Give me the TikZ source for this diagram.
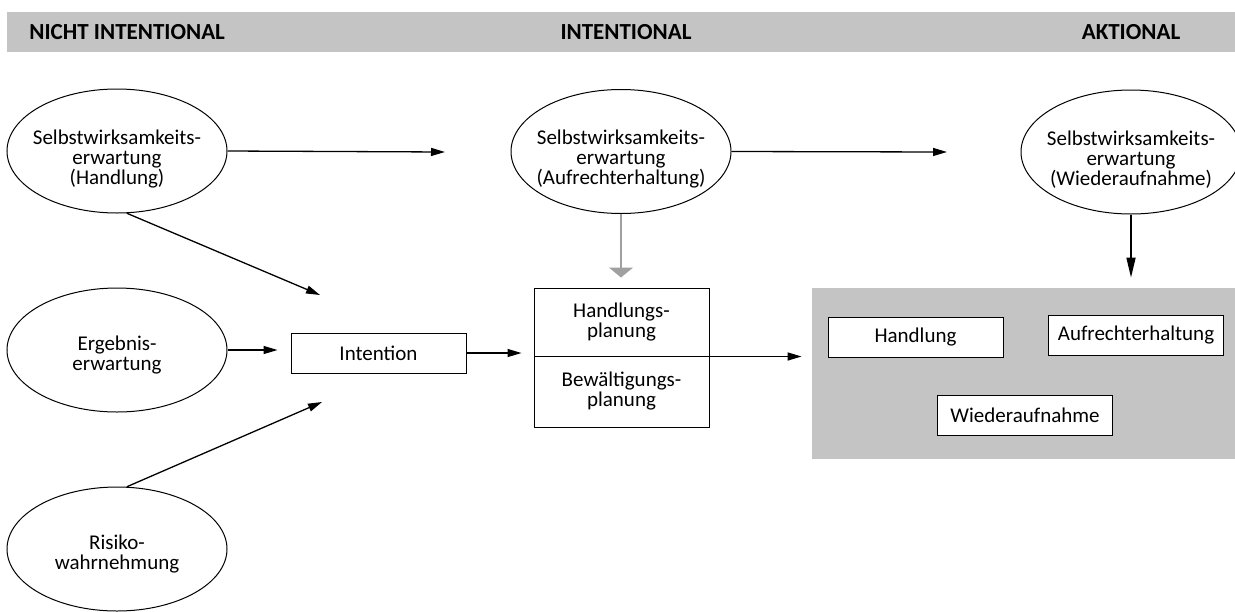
\documentclass[tikz,border=0pt]{standalone}
\usepackage{fontspec}
\setmainfont{Carlito}
\usepackage{xcolor}
\definecolor{Col1}{RGB}{196,196,196}
\definecolor{Col2}{RGB}{160,160,160}
\usetikzlibrary{shapes}
\usetikzlibrary{arrows.meta}
\tikzstyle{Oval}=[ellipse,draw=black,line width=.5pt,inner sep=0pt,
minimum width=110pt,minimum height=62pt]
\tikzstyle{OvalST}=[font=\fontsize{10.5}{10}\selectfont,align=center,inner sep=0pt,yshift=-4pt]
\tikzstyle{Box}=[rectangle,draw=black,fill=white,line width=.5pt,inner sep=0pt,
minimum width=87.5pt,minimum height=20pt,font=\fontsize{10.5}{10}\selectfont,align=center]
\tikzstyle{Area}=[rectangle,fill=Col1,inner sep=0pt]
\tikzstyle{Header}=[font=\bfseries\fontsize{11.5}{13}\selectfont,inner sep=0pt]
\tikzstyle{Edge}=[draw=black,line width=.65pt,-{Triangle[length=7pt,width=4pt]}]
\tikzstyle{EdgeG}=[draw=Col2,line width=.65pt,-{Triangle[length=5pt,width=12pt]}]
\tikzstyle{EdgeD}=[draw=black,line width=.8pt,-{Triangle[length=10pt,width=4.5pt]}]

\begin{document}
\begin{tikzpicture}[x=.5pt,y=-.5pt]
        \useasboundingbox (0,0) rectangle (1235,611);
        % Kopfzeile
        \fill[Col1] (7,12) rectangle (1235,52);
        \node[Header,anchor=west](NI)at(29,32){NICHT INTENTIONAL};
        \node[Header](IN)at(626,32){INTENTIONAL};
        \node[Header](AK)at(1131,32){AKTIONAL};
        % Ellipsen
        \node[Oval,label={[OvalST]center:{Selbstwirksamkeits-\\erwartung\\(Handlung)}}](SEH)at(117,151){};
        \node[Oval,label={[OvalST,yshift=1.5pt]center:{Ergebnis-\\erwartung}}](EE)at(117,350){};
        \node[Oval,label={[OvalST,yshift=1.5pt]center:{Risiko-\\wahrnehmung}}](RW)at(117,549){};
        \node[Oval,label={[OvalST]center:{Selbstwirksamkeits-\\erwartung\\(Aufrechterhaltung)}}](SEA)at(621,151.5){};
        \node[Oval,label={[OvalST]center:{Selbstwirksamkeits-\\erwartung\\(Wiederaufnahme)}}](SEW)at(1131,152){};
        % Kaesten
        \node[Box](Int)at(378.5,353){Intention};
        \node[Box,minimum height=34pt](HP)at(621.5,322){Handlungs-\\planung};
        \node[Box,minimum height=35.5pt](BP)at(621.5,391.5){Bewältigungs-\\planung};
        \node[Area,minimum width=211.5pt,minimum height=85.5pt](Akt)at(1023.5,373.5){};
        \node[Box](Ha)at(915.5,337){Handlung};
        \node[Box](Au)at(1136,335){Aufrechterhaltung};
        \node[Box](Wi)at(1025,415){Wiederaufnahme};
        % Pfeile
        \coordinate(e1)at(445,152);
        \coordinate(e2)at(947,152);
        \coordinate(i1)at(320,295);
        \coordinate(i2)at(322,402);
        \draw[Edge](SEH.east)--(e1);
        \draw[Edge](SEA.east)--(e2);
        \draw[Edge](SEH.-81)--(i1);
        \draw[Edge](RW.81)--(i2);
        \draw[Edge,shorten >=6.5pt](EE.east)--(EE.east-|Int.west);
        \draw[Edge,shorten >=6pt](Int.east)--(Int.east-|HP.west);
        \draw[Edge,shorten >=5pt](HP.south east)--(HP.south east-|Akt.west);
        \draw[EdgeG,shorten >=5pt](SEA.south)--(SEA.south|-HP.north);
        \draw[EdgeD,shorten >=5pt](SEW.south)--(SEW.south|-Akt.north);
    \end{tikzpicture}
\end{document}
